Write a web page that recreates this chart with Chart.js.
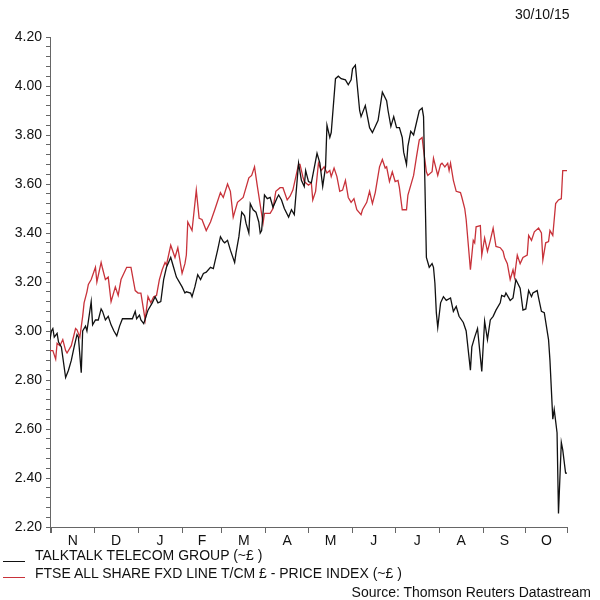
<!DOCTYPE html>
<html>
<head>
<meta charset="utf-8">
<script src="https://cdn.jsdelivr.net/npm/chart.js@4.4.1/dist/chart.umd.min.js"></script>
<style>
  html, body { margin: 0; padding: 0; background: #fff; }
  #wrap { position: relative; width: 600px; height: 600px; font-family: 'Liberation Sans', Arial, sans-serif; font-size: 14px; color: #111; }
  #wrap canvas { position: absolute; left: 0; top: 0; }
  .txt { position: absolute; line-height: 16px; white-space: nowrap; }
  .key { position: absolute; left: 3px; width: 22px; height: 0; border-top: 1px solid #111; }
</style>
</head>
<body>
<div id="wrap">
  <canvas id="priceChart" width="600" height="600"></canvas>
  <div class="txt" style="left:515px; top:6px;">30/10/15</div>
  <div class="key" style="top:561px;"></div>
  <div class="txt" style="left:35px; top:547px;">TALKTALK TELECOM GROUP (~£ )</div>
  <div class="key" style="top:577px; border-top-color:#c8323a;"></div>
  <div class="txt" style="left:35px; top:565px;">FTSE ALL SHARE FXD LINE T/CM £ - PRICE INDEX (~£ )</div>
  <div class="txt" style="right:9px; top:584px;">Source: Thomson Reuters Datastream</div>
</div>
<script>
// days counted from 1 Nov 2014
const axisStart = -1;
const axisEnd = 363;
const monthStarts = [0, 30, 61, 92, 120, 151, 181, 212, 242, 273, 304, 334];
const monthLetters = ['N', 'D', 'J', 'F', 'M', 'A', 'M', 'J', 'J', 'A', 'S', 'O'];

const yMin = 2.2;
const yMax = 4.2;
const yMinorStep = 0.04;
const yTickLabels = ['2.20', '2.40', '2.60', '2.80', '3.00', '3.20', '3.40', '3.60', '3.80', '4.00', '4.20'];

const talkDays = [
  -1, 0, 1, 2, 4, 5, 7, 10, 12, 14, 16, 18, 19, 21, 22, 24, 25, 28, 29, 31,
  33, 35, 36, 38, 40, 42, 44, 46, 48, 50, 53, 55, 57, 59, 60, 62, 63, 65, 68, 71,
  73, 75, 77, 79, 81, 84, 86, 88, 92, 94, 95, 98, 99, 101, 103, 105, 107, 109, 112, 114,
  115, 117, 119, 121, 122, 124, 126, 129, 130, 132, 134, 136, 137, 139, 140, 142, 144, 146, 147, 148,
  150, 152, 154, 156, 159, 160, 162, 164, 167, 169, 171, 174, 176, 178, 179, 181, 183, 187, 189, 191,
  193, 194, 196, 197, 200, 202, 204, 207, 209, 211, 212, 214, 217, 218, 221, 224, 226, 228, 230, 233,
  236, 237, 239, 241, 243, 245, 247, 248, 250, 251, 253, 255, 257, 259, 261, 262, 263, 264, 266, 268,
  269, 270, 271, 272, 274, 276, 278, 281, 283, 285, 287, 290, 292, 295, 296, 298, 300, 303, 305, 307,
  309, 311, 313, 316, 317, 319, 320, 323, 325, 327, 330, 332, 334, 336, 338, 339, 342, 343, 345, 347,
  350, 351, 353, 354, 356, 357, 359, 360, 362, 363
];
const talkPrice = [
  2.965, 3.00, 3.01, 2.975, 2.99, 2.955, 2.935, 2.81, 2.84, 2.88, 2.935, 2.985, 2.975, 2.83, 3.00, 3.02, 3.00, 3.12, 3.025, 3.045,
  3.045, 3.09, 3.08, 3.045, 3.06, 3.025, 3.00, 2.98, 3.02, 3.05, 3.05, 3.05, 3.05, 3.08, 3.05, 3.065, 3.045, 3.03, 3.085, 3.115,
  3.14, 3.115, 3.12, 3.21, 3.26, 3.30, 3.26, 3.22, 3.18, 3.155, 3.16, 3.155, 3.14, 3.18, 3.23, 3.21, 3.235, 3.24, 3.26, 3.255,
  3.28, 3.33, 3.385, 3.365, 3.36, 3.37, 3.33, 3.28, 3.32, 3.385, 3.485, 3.47, 3.44, 3.40, 3.52, 3.495, 3.485, 3.445, 3.40, 3.41,
  3.555, 3.54, 3.545, 3.505, 3.545, 3.555, 3.535, 3.50, 3.465, 3.495, 3.475, 3.685, 3.615, 3.59, 3.655, 3.61, 3.605, 3.725, 3.685, 3.59,
  3.67, 3.84, 3.79, 3.81, 4.03, 4.04, 4.03, 4.025, 4.005, 4.025, 4.07, 4.085, 3.90, 3.875, 3.92, 3.83, 3.81, 3.835, 3.86, 3.975,
  3.94, 3.90, 3.835, 3.875, 3.83, 3.83, 3.79, 3.73, 3.68, 3.755, 3.815, 3.80, 3.85, 3.90, 3.91, 3.875, 3.59, 3.30, 3.26, 3.275,
  3.26, 3.195, 3.075, 3.015, 3.115, 3.14, 3.125, 3.135, 3.08, 3.10, 3.06, 3.035, 3.00, 2.84, 2.935, 2.975, 3.01, 2.835, 3.04, 2.965,
  3.045, 3.06, 3.085, 3.115, 3.145, 3.14, 3.155, 3.125, 3.135, 3.21, 3.175, 3.085, 3.09, 3.165, 3.14, 3.155, 3.165, 3.135, 3.08, 3.075,
  2.965, 2.88, 2.64, 2.68, 2.585, 2.255, 2.545, 2.515, 2.42, 2.42
];

const ftseDays = [
  -1, 1, 3, 4, 6, 8, 10, 11, 14, 17, 18, 20, 22, 23, 25, 26, 28, 31, 32, 35,
  36, 38, 40, 42, 45, 47, 49, 53, 56, 59, 61, 63, 66, 68, 70, 72, 74, 76, 78, 80,
  81, 84, 87, 89, 92, 94, 95, 96, 99, 102, 104, 106, 109, 112, 115, 119, 121, 124, 126, 128,
  131, 135, 139, 141, 143, 145, 149, 150, 154, 156, 158, 161, 163, 166, 168, 170, 174, 175, 177, 178,
  181, 183, 184, 186, 188, 190, 192, 194, 196, 197, 199, 201, 203, 205, 207, 209, 211, 213, 215, 218,
  219, 222, 224, 226, 228, 231, 233, 235, 236, 238, 240, 242, 244, 245, 247, 250, 251, 255, 257, 259,
  261, 262, 264, 265, 268, 269, 272, 274, 275, 277, 279, 280, 281, 283, 285, 288, 289, 291, 292, 295,
  297, 298, 299, 302, 303, 305, 307, 309, 311, 313, 316, 318, 319, 321, 323, 325, 326, 328, 330, 332,
  335, 336, 338, 340, 343, 345, 346, 348, 350, 351, 353, 355, 357, 359, 360, 363
];
const ftseIndex = [
  2.92, 2.92, 2.885, 2.95, 2.94, 2.965, 2.92, 2.91, 2.94, 3.01, 3.005, 2.975, 3.06, 3.115, 3.16, 3.19, 3.21, 3.26, 3.20, 3.28,
  3.255, 3.21, 3.22, 3.12, 3.18, 3.145, 3.21, 3.26, 3.26, 3.165, 3.155, 3.155, 3.045, 3.14, 3.115, 3.14, 3.145, 3.21, 3.25, 3.28,
  3.27, 3.35, 3.30, 3.34, 3.235, 3.275, 3.31, 3.445, 3.41, 3.575, 3.46, 3.455, 3.41, 3.445, 3.495, 3.565, 3.545, 3.60, 3.57, 3.465,
  3.525, 3.545, 3.625, 3.635, 3.67, 3.59, 3.44, 3.48, 3.48, 3.50, 3.57, 3.585, 3.585, 3.535, 3.55, 3.575, 3.68, 3.68, 3.63, 3.61,
  3.595, 3.605, 3.535, 3.57, 3.685, 3.655, 3.67, 3.645, 3.655, 3.63, 3.665, 3.63, 3.57, 3.575, 3.615, 3.545, 3.525, 3.54, 3.495, 3.475,
  3.495, 3.525, 3.57, 3.52, 3.565, 3.67, 3.70, 3.665, 3.67, 3.61, 3.65, 3.61, 3.615, 3.585, 3.495, 3.495, 3.555, 3.635, 3.71, 3.78,
  3.79, 3.74, 3.65, 3.635, 3.65, 3.705, 3.635, 3.68, 3.685, 3.67, 3.685, 3.655, 3.685, 3.615, 3.57, 3.565, 3.545, 3.50, 3.455, 3.25,
  3.37, 3.36, 3.425, 3.43, 3.31, 3.38, 3.325, 3.37, 3.42, 3.345, 3.34, 3.325, 3.30, 3.275, 3.21, 3.25, 3.22, 3.31, 3.275, 3.30,
  3.31, 3.39, 3.37, 3.405, 3.42, 3.40, 3.29, 3.36, 3.365, 3.41, 3.39, 3.52, 3.535, 3.54, 3.655, 3.655
];

const FONT = { family: "'Liberation Sans', Arial, sans-serif", size: 14 };
const AXIS_COLOR = '#666';

const monthMids = monthStarts.map((d, i) => (d + (i + 1 < monthStarts.length ? monthStarts[i + 1] : axisEnd)) / 2);
const monthBounds = [axisStart, ...monthStarts, axisEnd];
const isMid = (v) => monthMids.some((m) => Math.abs(m - v) < 1e-6);

const toPoints = (xs, ys) => xs.map((x, i) => ({ x, y: ys[i] }));

const ctx = document.getElementById('priceChart').getContext('2d');
new Chart(ctx, {
  type: 'line',
  data: {
    datasets: [
      {
        label: 'TALKTALK TELECOM GROUP (~£ )',
        data: toPoints(talkDays, talkPrice),
        borderColor: '#111',
        borderWidth: 1.3,
        pointRadius: 0,
        tension: 0,
      },
      {
        label: 'FTSE ALL SHARE FXD LINE T/CM £ - PRICE INDEX (~£ )',
        data: toPoints(ftseDays, ftseIndex),
        borderColor: '#c8323a',
        borderWidth: 1.3,
        pointRadius: 0,
        tension: 0,
      },
    ],
  },
  options: {
    responsive: false,
    animation: false,
    devicePixelRatio: 1,
    layout: { padding: { left: 0, right: 33, top: 37, bottom: 49 } },
    plugins: {
      legend: { display: false },
      tooltip: { enabled: false },
    },
    scales: {
      x: {
        type: 'linear',
        min: axisStart,
        max: axisEnd,
        afterBuildTicks: (scale) => {
          scale.ticks = [...monthBounds, ...monthMids].sort((a, b) => a - b).map((value) => ({ value }));
        },
        afterFit: (scale) => { scale.height = 24; },
        ticks: {
          autoSkip: false,
          maxRotation: 0,
          padding: 0,
          color: '#111',
          font: FONT,
          callback: (value) => {
            const i = monthMids.findIndex((m) => Math.abs(m - value) < 1e-6);
            return i >= 0 ? monthLetters[i] : '';
          },
        },
        grid: {
          drawOnChartArea: false,
          tickLength: 6,
          tickColor: (c) => (c.tick && isMid(c.tick.value) ? 'rgba(0,0,0,0)' : AXIS_COLOR),
        },
        border: { color: AXIS_COLOR, width: 1 },
      },
      y: {
        min: yMin,
        max: yMax,
        afterBuildTicks: (scale) => {
          const n = Math.round((yMax - yMin) / yMinorStep);
          const ticks = [];
          for (let i = 0; i <= n; i++) {
            ticks.push({ value: Math.round((yMin + i * yMinorStep) * 100) / 100 });
          }
          scale.ticks = ticks;
        },
        afterFit: (scale) => { scale.width = 50; },
        ticks: {
          autoSkip: false,
          padding: 4,
          color: '#111',
          font: FONT,
          callback: (value) => {
            const label = value.toFixed(2);
            return yTickLabels.includes(label) ? label : '';
          },
        },
        grid: {
          drawOnChartArea: false,
          tickLength: 4,
          tickColor: AXIS_COLOR,
        },
        border: { color: AXIS_COLOR, width: 1 },
      },
    },
  },
});
</script>
</body>
</html>
